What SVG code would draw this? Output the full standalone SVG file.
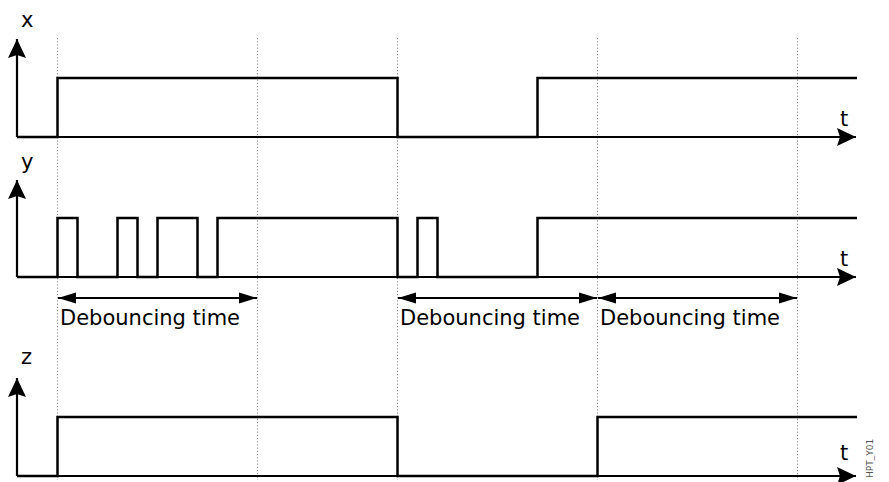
<svg xmlns="http://www.w3.org/2000/svg" width="889" height="482" viewBox="0 0 889 482">
<style>
.grid{stroke:#888;stroke-width:1;stroke-dasharray:1.2,2;fill:none}
.sig{stroke:#000;stroke-width:2.5;fill:none;stroke-linejoin:miter}
.ax{stroke:#000;stroke-width:2.2;fill:none}
.lbl{font-family:"DejaVu Sans",Verdana,sans-serif;font-size:21px;fill:#000}
.tag{font-family:"DejaVu Sans",sans-serif;font-size:9px;fill:#555}
.dim{stroke:#000;stroke-width:2.2;fill:none}
</style>
<defs>
<marker id="ahUp" markerUnits="userSpaceOnUse" markerWidth="20" markerHeight="20" viewBox="0 0 20 20" refX="19" refY="10" orient="auto">
<path d="M0,1 L19,10 L0,19 L3,10 Z" fill="#000"/>
</marker>
<marker id="ahDim" markerUnits="userSpaceOnUse" markerWidth="18" markerHeight="12" viewBox="0 0 18 12" refX="18" refY="6" orient="auto-start-reverse">
<path d="M0,0.5 L18,6 L0,11.5 Z" fill="#000"/>
</marker>
</defs>
<rect width="889" height="482" fill="#fff"/>
<g id="grid">
<line class="grid" x1="57.5" y1="38" x2="57.5" y2="480"/>
<line class="grid" x1="257.5" y1="38" x2="257.5" y2="480"/>
<line class="grid" x1="397.5" y1="38" x2="397.5" y2="480"/>
<line class="grid" x1="597.5" y1="38" x2="597.5" y2="480"/>
<line class="grid" x1="797.5" y1="38" x2="797.5" y2="480"/>
</g>
<g id="plot-x">
<line class="ax" x1="17" y1="137" x2="17" y2="39" marker-end="url(#ahUp)"/>
<line class="ax" x1="17" y1="137" x2="856" y2="137" marker-end="url(#ahUp)"/>
<polyline class="sig" points="17,137 57.5,137 57.5,78 397.5,78 397.5,137 537.5,137 537.5,78 857,78"/>
<text class="lbl" x="21" y="27">x</text>
<text class="lbl" x="840" y="126">t</text>
</g>
<g id="plot-y">
<line class="ax" x1="17" y1="277" x2="17" y2="180" marker-end="url(#ahUp)"/>
<line class="ax" x1="17" y1="277" x2="856" y2="277" marker-end="url(#ahUp)"/>
<polyline class="sig" points="17,277 57.5,277 57.5,218 77.5,218 77.5,277 117.5,277 117.5,218 137.5,218 137.5,277 157.5,277 157.5,218 197.5,218 197.5,277 217.5,277 217.5,218 397.5,218 397.5,277 417.5,277 417.5,218 437.5,218 437.5,277 537.5,277 537.5,218 857,218"/>
<text class="lbl" x="21" y="169">y</text>
<text class="lbl" x="840" y="266">t</text>
</g>
<g id="plot-z">
<line class="ax" x1="17" y1="476" x2="17" y2="378" marker-end="url(#ahUp)"/>
<line class="ax" x1="17" y1="476" x2="856" y2="476" marker-end="url(#ahUp)"/>
<polyline class="sig" points="17,476 57.5,476 57.5,417 397.5,417 397.5,476 597.5,476 597.5,417 857,417"/>
<text class="lbl" x="21" y="364">z</text>
<text class="lbl" x="840" y="460">t</text>
</g>
<g id="connectors">
<line class="dim" x1="58" y1="298" x2="257" y2="298" marker-start="url(#ahDim)" marker-end="url(#ahDim)"/>
<line class="dim" x1="398" y1="298" x2="597" y2="298" marker-start="url(#ahDim)" marker-end="url(#ahDim)"/>
<line class="dim" x1="598" y1="298" x2="797" y2="298" marker-start="url(#ahDim)" marker-end="url(#ahDim)"/>
</g>
<g id="labels">
<text class="lbl" x="60" y="325">Debouncing time</text>
<text class="lbl" x="400" y="325">Debouncing time</text>
<text class="lbl" x="600" y="325">Debouncing time</text>
<text class="tag" transform="translate(873,478) rotate(-90)">HPT_Y01</text>
</g>
</svg>
